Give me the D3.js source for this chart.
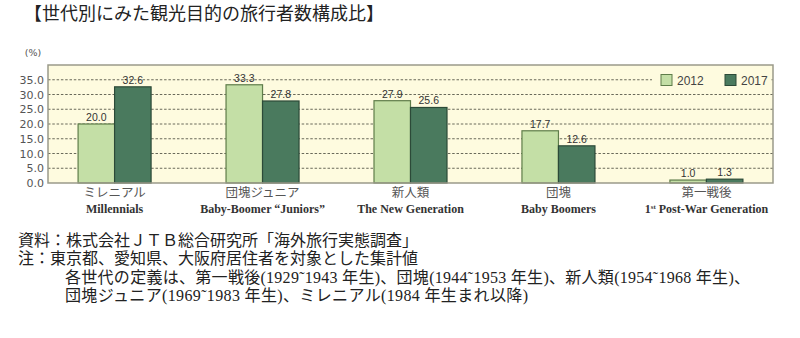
<!DOCTYPE html>
<html>
<head>
<meta charset="utf-8">
<script src="https://cdn.jsdelivr.net/npm/d3@7/dist/d3.min.js"></script>
<style>
  html, body { margin: 0; padding: 0; background: #fff; }
  svg { display: block; }
</style>
</head>
<body>
<svg id="chart" width="800" height="338"></svg>
<script>
// Generation labels (Japanese / English)
const categoriesJa = ["ミレニアル", "団塊ジュニア", "新人類", "団塊", "第一戦後"];
const categoriesEn = ["Millennials", "Baby-Boomer \u201CJuniors\u201D", "The New Generation", "Baby Boomers", "1st Post-War Generation"];
// Share of sightseeing travellers (%)
const seriesNames = ["2012", "2017"];
const values2012 = [20.0, 33.3, 27.9, 17.7, 1.0];
const values2017 = [32.6, 27.8, 25.6, 12.6, 1.3];
const yTicks = [0, 5, 10, 15, 20, 25, 30, 35];

const title = "【世代別にみた観光目的の旅行者数構成比】";
const notes = [
  "資料：株式会社ＪＴＢ総合研究所「海外旅行実態調査」",
  "注：東京都、愛知県、大阪府居住者を対象とした集計値",
  "各世代の定義は、第一戦後(1929˜1943 年生)、団塊(1944˜1953 年生)、新人類(1954˜1968 年生)、",
  "団塊ジュニア(1969˜1983 年生)、ミレニアル(1984 年生まれ以降)"
];

const svg = d3.select("#chart");
const plot = { left: 48, right: 773, top: 65, bottom: 183 };
const colors = ["#c4dfa6", "#4a7a5e"];
const strokes = ["#5f7d4a", "#2c4a38"];
const serif = "'Liberation Serif', 'Times New Roman', serif";
const cjk = "'Noto Sans CJK JP', sans-serif";
// Latin parts of the notes in a serif face, Japanese falls back to Noto CJK
const noteFont = "'Liberation Serif', 'Noto Sans CJK JP', serif";

// Title
svg.append("text")
  .attr("x", 24).attr("y", 20)
  .attr("font-family", cjk).attr("font-size", 18)
  .attr("fill", "#222")
  .text(title);

const x = d3.scalePoint().domain(categoriesJa).range([plot.left, plot.right]).padding(0.45);
const y = d3.scaleLinear().domain([0, 40]).range([plot.bottom, plot.top]);
const barW = 36.5;

// Plot background
svg.append("rect")
  .attr("x", plot.left).attr("y", plot.top)
  .attr("width", plot.right - plot.left).attr("height", plot.bottom - plot.top)
  .attr("fill", "#fefbdf");

// Dotted gridlines
svg.append("g").selectAll("line").data(yTicks.filter(d => d > 0)).join("line")
  .attr("x1", plot.left).attr("x2", plot.right)
  .attr("y1", d => y(d)).attr("y2", d => y(d))
  .attr("stroke", "#6a6a5a").attr("stroke-width", 1)
  .attr("stroke-dasharray", "2.5,1.8");

// Y axis labels
const yAxis = d3.axisLeft(y).tickValues(yTicks).tickFormat(d3.format(".1f")).tickSize(0).tickPadding(4);
const gy = svg.append("g").attr("transform", `translate(${plot.left},0)`).call(yAxis);
gy.select(".domain").remove();
gy.selectAll("text")
  .attr("font-family", "'DejaVu Sans', sans-serif").attr("font-size", 11)
  .attr("fill", "#555");
svg.append("text")
  .attr("x", 33).attr("y", 56).attr("text-anchor", "middle")
  .attr("font-family", "'DejaVu Sans', sans-serif").attr("font-size", 9.5)
  .attr("fill", "#555").text("(%)");

// Legend (covers gridline behind it)
const legendX = 652;
svg.append("rect")
  .attr("x", legendX).attr("y", 72).attr("width", plot.right - legendX - 1.5).attr("height", 16)
  .attr("fill", "#fefbdf");
seriesNames.forEach((name, i) => {
  const lx = 661 + i * 64;
  svg.append("rect")
    .attr("x", lx).attr("y", 74.5).attr("width", 11).attr("height", 11)
    .attr("fill", colors[i]).attr("stroke", strokes[i]).attr("stroke-width", 1);
  svg.append("text")
    .attr("x", lx + 16).attr("y", 84.5)
    .attr("font-family", "'Liberation Sans Narrow', 'Liberation Sans', sans-serif").attr("font-size", 12)
    .attr("fill", "#444").text(name);
});

// Bars
const series = [values2012, values2017];
series.forEach((vals, s) => {
  const g = svg.append("g");
  g.selectAll("rect").data(vals).join("rect")
    .attr("x", (d, i) => x(categoriesJa[i]) - barW + s * barW)
    .attr("y", d => y(d))
    .attr("width", barW)
    .attr("height", d => y(0) - y(d))
    .attr("fill", colors[s]).attr("stroke", strokes[s]).attr("stroke-width", 1.2);
  g.selectAll("text").data(vals).join("text")
    .attr("x", (d, i) => x(categoriesJa[i]) - barW / 2 + s * barW)
    .attr("y", d => y(d) - 3)
    .attr("text-anchor", "middle")
    .attr("font-family", "'Liberation Sans', sans-serif").attr("font-size", 10.5)
    .attr("fill", "#333")
    .text(d => d3.format(".1f")(d));
});

// Plot frame
svg.append("rect")
  .attr("x", plot.left).attr("y", plot.top)
  .attr("width", plot.right - plot.left).attr("height", plot.bottom - plot.top)
  .attr("fill", "none").attr("stroke", "#9a9a8a").attr("stroke-width", 1.5);

// Category labels
const cat = svg.append("g");
cat.selectAll("text.ja").data(categoriesJa).join("text")
  .attr("class", "ja")
  .attr("x", d => x(d)).attr("y", 197)
  .attr("text-anchor", "middle")
  .attr("font-family", cjk).attr("font-size", 12.5)
  .attr("fill", "#555").text(d => d);
cat.selectAll("text.en").data(categoriesEn).join("text")
  .attr("class", "en")
  .attr("x", (d, i) => x(categoriesJa[i])).attr("y", 213)
  .attr("text-anchor", "middle")
  .attr("font-family", serif).attr("font-size", 12).attr("font-weight", "bold")
  .attr("fill", "#333")
  .each(function(d) {
    const t = d3.select(this);
    if (d.startsWith("1st")) {
      t.append("tspan").text("1");
      t.append("tspan").attr("font-size", 7).attr("dy", -4).text("st");
      t.append("tspan").attr("dy", 4).text(" Post-War Generation");
    } else {
      t.text(d);
    }
  });

// Notes
const noteX = [18, 18, 65, 65];
const noteY = [246, 264.3, 282.6, 301];
const noteWidth = [null, null, 685, 463];
svg.append("g").selectAll("text").data(notes).join("text")
  .attr("x", (d, i) => noteX[i]).attr("y", (d, i) => noteY[i])
  .attr("font-family", noteFont).attr("font-size", 16)
  .attr("fill", "#222")
  .each(function(d, i) {
    if (noteWidth[i]) {
      d3.select(this).attr("textLength", noteWidth[i]).attr("lengthAdjust", "spacing");
    }
  })
  .text(d => d);
</script>
</body>
</html>
